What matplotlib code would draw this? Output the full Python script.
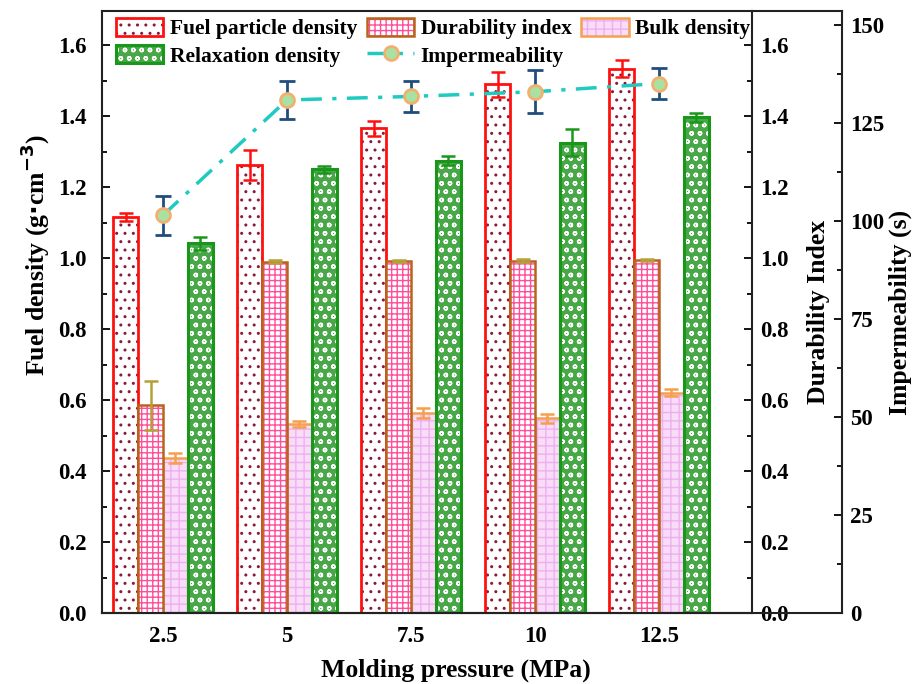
import numpy as np
import matplotlib
matplotlib.use("Agg")
import matplotlib.pyplot as plt
from matplotlib.patches import Patch
from matplotlib.lines import Line2D
from matplotlib.ticker import MultipleLocator

plt.rcParams['font.family'] = ['Liberation Serif', 'DejaVu Serif']
plt.rcParams['font.weight'] = 'bold'
plt.rcParams['axes.labelweight'] = 'bold'
plt.rcParams['hatch.linewidth'] = 1.0

# ---------------- data ----------------
pressure = [2.5, 5, 7.5, 10, 12.5]
pressure_labels = ['2.5', '5', '7.5', '10', '12.5']

fuel_density = [1.116, 1.262, 1.365, 1.489, 1.534]
fuel_err = [0.012, 0.042, 0.022, 0.034, 0.024]

durability = [0.585, 0.990, 0.992, 0.993, 0.994]
durability_err = [0.070, 0.004, 0.003, 0.003, 0.003]

bulk_density = [0.437, 0.532, 0.563, 0.548, 0.620]
bulk_err = [0.015, 0.008, 0.015, 0.012, 0.010]

relax_density = [1.042, 1.250, 1.274, 1.325, 1.396]
relax_err = [0.018, 0.010, 0.013, 0.038, 0.014]

impermeability = [101.5, 130.9, 131.8, 133.0, 135.1]
imper_err = [5.0, 4.8, 3.9, 5.5, 4.0]

# ---------------- layout ----------------
W, H = 923, 684
fig = plt.figure(figsize=(W / 100, H / 100), dpi=100)
L, R, R3, B, T = 102 / W, 752 / W, 842 / W, 1 - 613 / H, 1 - 11 / H

ax = fig.add_axes([L, B, R - L, T - B])
ax2 = ax.twinx()
ax3 = fig.add_axes([L, B, R3 - L, T - B])
ax3.patch.set_visible(False)

x = np.array(pressure)
bw = 0.5
x0, x1 = 1.27, 14.375
x1_wide = x0 + (x1 - x0) * (R3 - L) / (R - L)


def hatched_bar(a, xs, h, face, hcol, hatch, edge, lw, err, ecol):
    # hatch layer first, then the outline on top (hatch colour != edge colour)
    a.bar(xs, h, bw, color=face, edgecolor=hcol, hatch=hatch, linewidth=0, zorder=2)
    a.bar(xs, h, bw, fill=False, edgecolor=edge, linewidth=lw, zorder=3)
    a.errorbar(xs, h, yerr=err, fmt='none', ecolor=ecol, elinewidth=1.8,
               capsize=5, capthick=1.8, zorder=4)
    return (Patch(facecolor=face, edgecolor=hcol, hatch=hatch, linewidth=0),
            Patch(fill=False, edgecolor=edge, linewidth=lw))


h_fuel = hatched_bar(ax, x - 0.75, fuel_density, 'white', '#8b1a3a', '..',
                     '#ff1010', 2.0, fuel_err, '#ff1010')
h_dur = hatched_bar(ax2, x - 0.25, durability, 'white', '#ff4f9a', '+++',
                    '#b8651b', 1.8, durability_err, '#b5a03a')
h_bulk = hatched_bar(ax, x + 0.25, bulk_density, '#f8dcf8', '#eeb0f2', '++',
                     '#f5a050', 1.8, bulk_err, '#f5a050')
h_relax = hatched_bar(ax, x + 0.75, relax_density, '#48a848', 'white', 'oo',
                      '#1a961a', 2.2, relax_err, '#1a961a')

# impermeability line on the wide axis
ax3.errorbar(x, impermeability, yerr=imper_err, fmt='none', ecolor='#1f4e7c',
             elinewidth=2, capsize=6, capthick=2, zorder=5)
ax3.plot(x, impermeability, color='#1fcac0', lw=2.5, dashes=[6, 3, 1.2, 3],
         marker='o', ms=10, mfc='#a9e2a0', mec='#f2b070', mew=2, zorder=6)

# ---------------- axes settings ----------------
ax.set_xlim(x0, x1)
ax.set_ylim(0, 1.696)
ax2.set_ylim(0, 1.696)
ax3.set_xlim(x0, x1_wide)
ax3.set_ylim(0, 153.6)

ax.set_xticks(x)
ax.set_xticklabels(pressure_labels)
ax.yaxis.set_major_locator(MultipleLocator(0.2))
ax.yaxis.set_minor_locator(MultipleLocator(0.1))
ax2.yaxis.set_major_locator(MultipleLocator(0.2))
ax2.yaxis.set_minor_locator(MultipleLocator(0.1))
ax3.yaxis.set_major_locator(MultipleLocator(25))
ax3.yaxis.set_minor_locator(MultipleLocator(12.5))

for s in ['top', 'right']:
    ax.spines[s].set_visible(False)
for s in ['top', 'left', 'bottom']:
    ax2.spines[s].set_visible(False)
ax3.spines['left'].set_visible(False)
for a in (ax, ax2, ax3):
    for s in a.spines.values():
        s.set_linewidth(1.5)
        s.set_color('#222222')

fs_tick = 16.5
ax.tick_params(axis='both', which='both', direction='in', labelsize=fs_tick, width=1.3)
ax.tick_params(axis='both', which='major', length=6)
ax.tick_params(axis='y', which='minor', length=3.5)
ax.tick_params(axis='x', pad=9)
ax.tick_params(axis='y', pad=11)
ax2.tick_params(axis='y', which='both', direction='in', labelsize=fs_tick, width=1.3, pad=6)
ax2.tick_params(axis='y', which='major', length=6)
ax2.tick_params(axis='y', which='minor', length=3.5)
ax3.tick_params(axis='x', which='both', bottom=False, top=False,
                labelbottom=False, labeltop=False)
ax3.tick_params(axis='y', which='both', direction='in', left=False, labelleft=False,
                right=True, labelright=True, labelsize=fs_tick, width=1.3, pad=6)
ax3.tick_params(axis='y', which='major', length=6)
ax3.tick_params(axis='y', which='minor', length=3.5)

fs_lab = 18.5
ax.set_xlabel('Molding pressure (MPa)', fontsize=fs_lab)
ax.xaxis.set_label_coords(0.545, -0.075)
ax.set_ylabel('Fuel density (g$\\cdot$cm$^{-3}$)', fontsize=fs_lab)
ax.yaxis.set_label_coords(-0.077, 0.595)
ax2.set_ylabel('Durability Index', fontsize=fs_lab)
ax2.yaxis.set_label_coords(1.084, 0.5)
ax3.yaxis.set_label_position('right')
ax3.set_ylabel('Impermeability (s)', fontsize=fs_lab, labelpad=3)

# ---------------- legend ----------------
h_imp = Line2D([], [], color='#1fcac0', lw=2.5, dashes=[6, 3, 1.2, 3],
               marker='o', ms=10, mfc='#a9e2a0', mec='#f2b070', mew=2)
handles = [h_fuel, h_relax, h_dur, h_imp, h_bulk]
labels = ['Fuel particle density', 'Relaxation density', 'Durability index',
          'Impermeability', 'Bulk density']
ax3.legend(handles, labels, ncol=3, loc='upper left',
           bbox_to_anchor=(0.0, 1.012), frameon=False, fontsize=15.5,
           handlelength=2.2, handleheight=0.95, handletextpad=0.3,
           columnspacing=0.45, labelspacing=0.25, borderaxespad=0.25)

fig.savefig('out.png', dpi=100)
